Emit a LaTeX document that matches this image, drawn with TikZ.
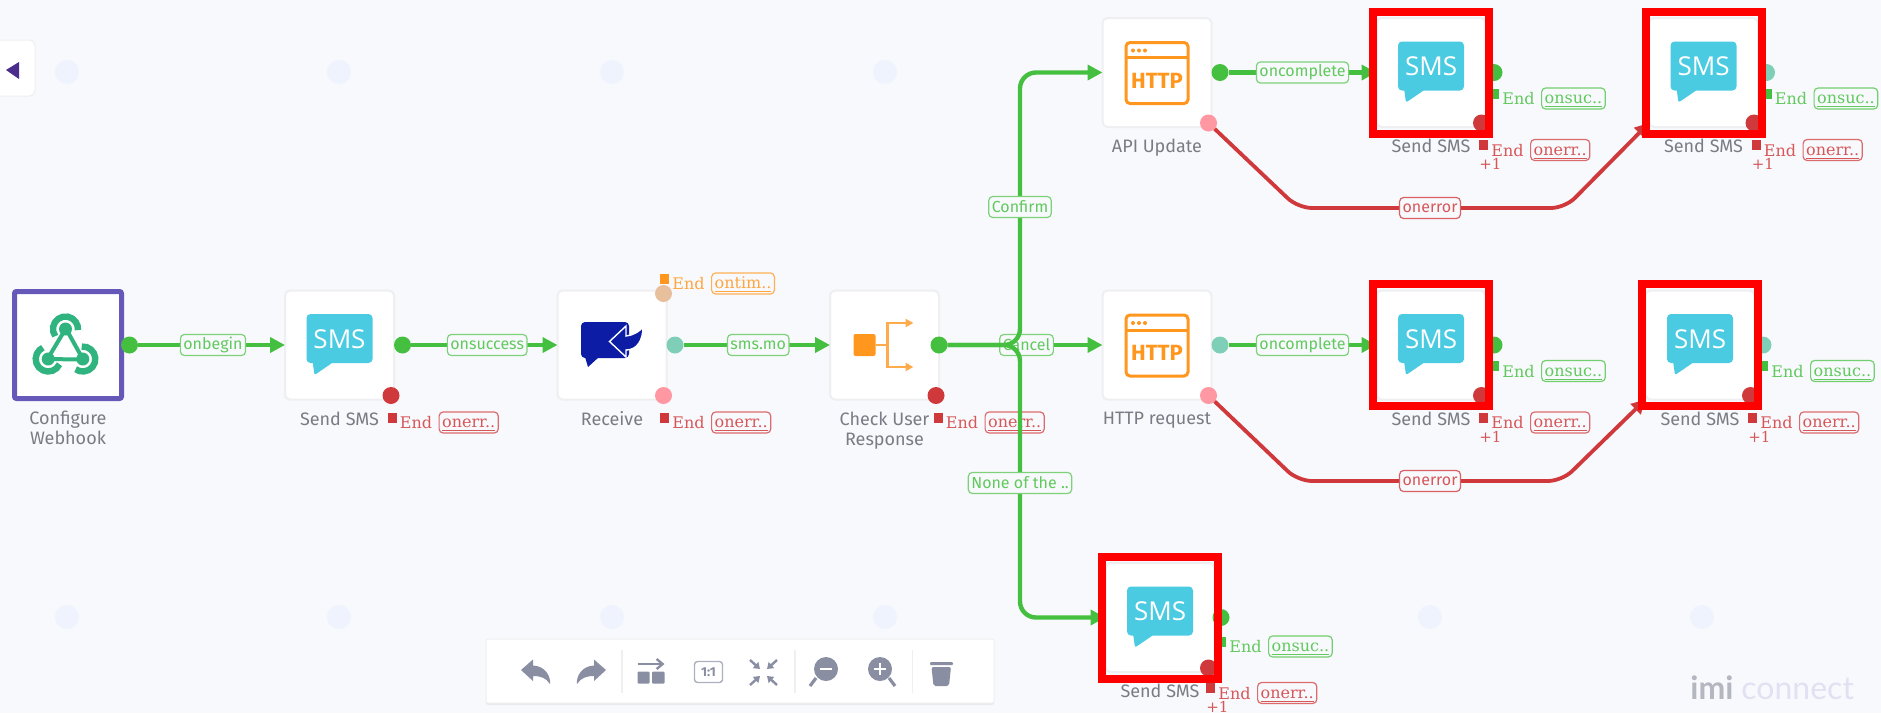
\documentclass[tikz,border=0pt]{standalone}
\usepackage{fontspec}
\usepackage{xcolor}
\usetikzlibrary{positioning,calc,shadows,arrows.meta}
\newfontfamily\plainfont{Fira Sans}
\newfontfamily\tagfont{DejaVu Serif}
\newfontfamily\logofont{Lato}
\newfontfamily\smsfont{Open Sans}
\definecolor{pagebg}{HTML}{F8F9FC}
\definecolor{griddot}{HTML}{EFF3FD}
\definecolor{boxline}{HTML}{EFEFF1}
\definecolor{okgreen}{HTML}{45BF40}
\definecolor{errred}{HTML}{D0393C}
\definecolor{warnorange}{HTML}{FF961E}
\definecolor{idleteal}{HTML}{7FCFB8}
\definecolor{idlepink}{HTML}{FF98A2}
\definecolor{idlepeach}{HTML}{E8BF9C}
\definecolor{smsblue}{HTML}{4ACBE2}
\definecolor{hookgreen}{HTML}{2FB37F}
\definecolor{toolgray}{HTML}{8A8EA3}
\definecolor{startline}{HTML}{6558B8}
\definecolor{tabmark}{HTML}{4B2E8C}
\definecolor{captiongray}{HTML}{7A7C85}
\definecolor{recvblue}{HTML}{0D1CA5}
\definecolor{logogray}{HTML}{B5B7C0}
\definecolor{logolilac}{HTML}{E2E0F2}
\tikzset{
    flowbox/.style={draw=boxline, line width=1pt, fill=white, rounded corners=2.5pt, minimum size=54.5pt, inner sep=0pt, outer sep=0pt},
    startbox/.style={draw=startline, line width=2.5pt, fill=white, rounded corners=1pt, minimum size=53.5pt, inner sep=0pt, outer sep=0pt},
    redframe/.style={draw=red, line width=4pt, minimum width=58pt, minimum height=61pt, inner sep=0pt},
    port/.style={circle, minimum size=8.5pt, inner sep=0pt, outer sep=0pt},
    griddotnode/.style={circle, fill=griddot, minimum size=12pt, inner sep=0pt},
    caption/.style={font=\plainfont\fontsize{9}{10}\selectfont, text=captiongray, align=center, inner sep=0pt},
    okedge/.style={draw=okgreen, line width=2.2pt, -{Triangle[length=7.5pt,width=7.5pt]}},
    erredge/.style={draw=errred, line width=1.9pt, rounded corners=7pt, -{Triangle[length=7pt,width=7pt]}},
    edgetag/.style={draw=okgreen!70!white, fill=pagebg, text=okgreen!85!white, line width=.6pt, rounded corners=2pt, font=\plainfont\fontsize{8}{9}\selectfont, inner xsep=1.5pt, inner ysep=0pt, minimum height=10.5pt},
    errtag/.style={edgetag, draw=errred!80!white, text=errred!85!white},
    endmark/.style={minimum width=4.5pt, minimum height=5pt, inner sep=0pt, outer sep=0pt},
    endtext/.style={font=\tagfont\fontsize{8}{9}\selectfont, inner sep=0pt, text height=6pt, text depth=0pt},
    endbadge/.style={font=\tagfont\fontsize{8}{9}\selectfont, fill=pagebg, line width=.6pt, rounded corners=2pt, inner xsep=1.5pt, inner ysep=0pt, minimum height=10.5pt, text height=6pt, text depth=1pt},
    plusone/.style={font=\tagfont\fontsize{7.5}{9}\selectfont, text=errred!85!white, inner sep=0pt, anchor=west},
    tool/.style={fill=toolgray, draw=none},
    toolline/.style={draw=toolgray, line width=1.2pt},
    toolsep/.style={draw=boxline, line width=.6pt}
}
\newcommand{\smsicon}[1]{
    \begin{scope}[shift={(#1)}, x=.5pt, y=.5pt]
        \fill [smsblue, rounded corners=2pt] (-33,31) rectangle (33,-18);
        \fill [smsblue, rounded corners=1pt] (-27,-16) -- (-25,-30) -- (-6,-17) -- cycle;
        \node [text=white, font=\smsfont\fontsize{13}{13}\selectfont, inner sep=0pt] (#1txt) at (0,6) {SMS};
    \end{scope}
}
\newcommand{\httpicon}[1]{
    \begin{scope}[shift={(#1)}, x=.5pt, y=.5pt]
        \draw [warnorange, line width=1.5pt, rounded corners=2pt] (-31,30) rectangle (31,-31);
        \draw [warnorange, line width=1.5pt] (-31,15) -- (31,15);
        \fill [warnorange] (-24,22) circle (2) (-18,22) circle (2) (-12,22) circle (2);
        \node [text=warnorange, font=\plainfont\bfseries\fontsize{11}{11}\selectfont, inner sep=0pt] (#1txt) at (0,-8) {HTTP};
    \end{scope}
}
\newcommand{\hooklobe}[1]{
    \begin{scope}[rotate=#1]
        \draw [hookgreen, line width=2pt] (0,20) -- (-18,-10);
        \draw [hookgreen, line width=3.2pt] ([shift={(215:12.5)}]0,20) arc (215:-5:12.5);
        \fill [hookgreen] (0,20) circle (6.5);
    \end{scope}
}
\newcommand{\stoptag}[4]{
    \node [endmark, fill=#3] (#1m) at (#2) {};
    \node [endtext, text=#3!85!white, right=1.5pt of #1m, yshift=-2.5pt] (#1t) {End};
    \node [endbadge, draw=#3!75!white, text=#3!85!white, right=3pt of #1t] (#1b) {\underline{#4}};
}
\begin{document}
\begin{tikzpicture}[x=.5pt, y=-.5pt, node distance=81.75pt]
    \useasboundingbox (0,0) rectangle (1881,713);
    \fill [pagebg] (0,0) rectangle (1881,713);

    \node [griddotnode] (g1) at (67,72) {};
    \node [griddotnode] (g2) at (339,72) {};
    \node [griddotnode] (g3) at (612,72) {};
    \node [griddotnode] (g4) at (885,72) {};
    \node [griddotnode] (g5) at (67,617) {};
    \node [griddotnode] (g6) at (339,617) {};
    \node [griddotnode] (g7) at (612,617) {};
    \node [griddotnode] (g8) at (885,617) {};
    \node [griddotnode] (g9) at (1430,617) {};
    \node [griddotnode] (g10) at (1702,617) {};

    \node [draw=boxline, line width=.5pt, fill=white, rounded corners=3pt, minimum width=35pt, minimum height=28pt] (tab) at (0,68) {};
    \fill [tabmark] (6,70) -- (19,62) -- (19,79) -- cycle;

    \node [startbox] (conf) at (68,345) {};
    \node [flowbox, right=of conf] (sms1) {};
    \node [flowbox, right=of sms1] (recv) {};
    \node [flowbox, right=of recv] (chk) {};
    \node [flowbox, right=of chk] (hreq) {};
    \node [flowbox, above=of hreq] (api) {};
    \node [flowbox, right=of api, xshift=.75pt] (sms2) {};
    \node [flowbox, right=of sms2] (sms3) {};
    \node [flowbox, right=of hreq, xshift=.75pt] (sms4) {};
    \node [flowbox, right=of sms4, xshift=-1.75pt] (sms5) {};
    \node [flowbox, below=of hreq, xshift=1.5pt] (sms6) {};

    \node [caption, below=6pt of conf] (confl) {Configure\\Webhook};
    \node [caption, below=6pt of sms1] (sms1l) {Send SMS};
    \node [caption, below=6pt of recv] (recvl) {Receive};
    \node [caption, below=6pt of chk] (chkl) {Check User\\Response};
    \node [caption, below=6pt of api] (apil) {API Update};
    \node [caption, below=6pt of hreq] (hreql) {HTTP request};
    \node [caption, below=6pt of sms2] (sms2l) {Send SMS};
    \node [caption, below=6pt of sms3] (sms3l) {Send SMS};
    \node [caption, below=6pt of sms4] (sms4l) {Send SMS};
    \node [caption, below=6pt of sms5] (sms5l) {Send SMS};
    \node [caption, below=6pt of sms6] (sms6l) {Send SMS};

    \begin{scope}[shift={($(conf)+(-2.5,4)$)}, x=.5pt, y=.5pt]
        \hooklobe{0}
        \hooklobe{120}
        \hooklobe{240}
    \end{scope}

    \smsicon{sms1}
    \smsicon{sms2}
    \smsicon{sms3}
    \smsicon{sms4}
    \smsicon{sms5}
    \smsicon{sms6}
    \httpicon{api}
    \httpicon{hreq}

    \begin{scope}[shift={(recv)}, x=.5pt, y=.5pt]
        \fill [recvblue, rounded corners=2pt] (-31,23) rectangle (17,-13);
        \fill [recvblue] (-27,-12) -- (-24,-22) -- (-13,-12) -- cycle;
        \draw [fill=recvblue, draw=white, line width=.7pt] (-2.5,3.5) -- (14,19) -- (14,9) .. controls (22,10) and (28,14) .. (31,18) .. controls (31,6) and (26,-5) .. (14,-5) -- (14,-12) -- cycle;
    \end{scope}

    \begin{scope}[shift={(chk)}, x=.5pt, y=.5pt]
        \fill [warnorange, rounded corners=1pt] (-31,11) rectangle (-9,-11);
        \draw [warnorange!80!white, line width=1.2pt] (-9,0) -- (3,0);
        \draw [warnorange!80!white, line width=1.2pt, -{Triangle[length=4pt,width=4pt]}] (3,0) |- (29,22);
        \draw [warnorange!80!white, line width=1.2pt, -{Triangle[length=4pt,width=4pt]}] (3,0) |- (29,-22);
    \end{scope}

    \node [port, fill=okgreen] (confok) at ([xshift=4pt]conf.east) {};
    \node [port, fill=okgreen, right=0pt of sms1] (sms1ok) {};
    \node [port, fill=errred] (sms1err) at ([xshift=-1.5pt,yshift=2pt]sms1.south east) {};
    \node [port, fill=idlepeach] (recvto) at ([xshift=-1.5pt,yshift=-1.5pt]recv.north east) {};
    \node [port, fill=idleteal, right=0pt of recv] (recvok) {};
    \node [port, fill=idlepink] (recverr) at ([xshift=-1.5pt,yshift=2pt]recv.south east) {};
    \node [port, fill=okgreen] (chkok) at (chk.east) {};
    \node [port, fill=errred] (chkerr) at ([xshift=-1.5pt,yshift=2pt]chk.south east) {};
    \node [port, fill=okgreen, right=0pt of api] (apiok) {};
    \node [port, fill=idlepink] (apierr) at ([xshift=-1.5pt,yshift=2pt]api.south east) {};
    \node [port, fill=idleteal, right=0pt of hreq] (hreqok) {};
    \node [port, fill=idlepink] (hreqerr) at ([xshift=-1.5pt,yshift=2pt]hreq.south east) {};
    \node [port, fill=okgreen, right=0pt of sms2] (sms2ok) {};
    \node [port, fill=errred] (sms2err) at ([xshift=-2pt,yshift=2pt]sms2.south east) {};
    \node [port, fill=idleteal, right=0pt of sms3] (sms3ok) {};
    \node [port, fill=errred] (sms3err) at ([xshift=-2pt,yshift=2pt]sms3.south east) {};
    \node [port, fill=okgreen, right=0pt of sms4] (sms4ok) {};
    \node [port, fill=errred] (sms4err) at ([xshift=-2pt,yshift=2pt]sms4.south east) {};
    \node [port, fill=idleteal, right=0pt of sms5] (sms5ok) {};
    \node [port, fill=errred] (sms5err) at ([xshift=-2pt,yshift=2pt]sms5.south east) {};
    \node [port, fill=okgreen, right=-1pt of sms6] (sms6ok) {};
    \node [port, fill=errred] (sms6err) at ([xshift=-3pt,yshift=2pt]sms6.south east) {};

    \stoptag{sms1e}{[xshift=-1pt,yshift=-9pt]sms1.south east}{errred}{onerr..}
    \stoptag{recvt}{[xshift=-1pt,yshift=6pt]recv.north east}{warnorange}{ontim..}
    \stoptag{recve}{[xshift=-1pt,yshift=-9pt]recv.south east}{errred}{onerr..}
    \stoptag{chke}{[xshift=-.5pt,yshift=-9pt]chk.south east}{errred}{onerr..}
    \stoptag{sms2g}{[xshift=4.5pt,yshift=-10.5pt]sms2.east}{okgreen}{onsuc..}
    \stoptag{sms2e}{[xshift=-1pt,yshift=-9pt]sms2.south east}{errred}{onerr..}
    \stoptag{sms3g}{[xshift=4.5pt,yshift=-10.5pt]sms3.east}{okgreen}{onsuc..}
    \stoptag{sms3e}{[xshift=-1pt,yshift=-9pt]sms3.south east}{errred}{onerr..}
    \stoptag{sms4g}{[xshift=4.5pt,yshift=-10.5pt]sms4.east}{okgreen}{onsuc..}
    \stoptag{sms4e}{[xshift=-1pt,yshift=-9pt]sms4.south east}{errred}{onerr..}
    \stoptag{sms5g}{[xshift=4.5pt,yshift=-10.5pt]sms5.east}{okgreen}{onsuc..}
    \stoptag{sms5e}{[xshift=-1pt,yshift=-9pt]sms5.south east}{errred}{onerr..}
    \stoptag{sms6g}{[xshift=3.5pt,yshift=-12pt]sms6.east}{okgreen}{onsuc..}
    \stoptag{sms6e}{[xshift=-2pt,yshift=-8pt]sms6.south east}{errred}{onerr..}

    \node [plusone] (sms2p) at ([yshift=-9.5pt]sms2em.west) {+1};
    \node [plusone] (sms3p) at ([yshift=-9.5pt]sms3em.west) {+1};
    \node [plusone] (sms4p) at ([yshift=-9.5pt]sms4em.west) {+1};
    \node [plusone] (sms5p) at ([yshift=-9.5pt]sms5em.west) {+1};
    \node [plusone] (sms6p) at ([yshift=-9.5pt]sms6em.west) {+1};

    \draw [okedge] (confok) -- node [edgetag, pos=.51] (t1) {onbegin} (sms1);
    \draw [okedge] (sms1ok) -- node [edgetag, pos=.52] (t2) {onsuccess} (recv);
    \draw [okedge] (recvok) -- node [edgetag, pos=.51] (t3) {sms.mo} (chk);
    \draw [okedge] (chkok) -- node [edgetag, pos=.51] (t4) {Cancel} (hreq);
    \draw [okedge] (apiok) -- node [edgetag, pos=.5] (t5) {oncomplete} (sms2);
    \draw [okedge] (hreqok) -- node [edgetag, pos=.5] (t6) {oncomplete} (sms4);

    \coordinate (bus) at (1020,345);
    \draw [okedge, rounded corners=8pt] (chkok) -- (bus) |- (api);
    \draw [okedge, rounded corners=8pt] (chkok) -- (bus) |- (sms6);
    \node [edgetag] (t7) at (1020,207) {Confirm};
    \node [edgetag] (t8) at (1020,483) {None of the ..};

    \coordinate (apil1) at (1298,208);
    \coordinate (apil2) at (1565,208);
    \coordinate (hreql1) at (1298,481);
    \coordinate (hreql2) at (1562,481);
    \draw [erredge] (apierr) -- (apil1) -- (apil2) -- ([yshift=2pt]sms3.south west);
    \draw [erredge] (hreqerr) -- (hreql1) -- (hreql2) -- (sms5.south west);
    \node [errtag] (t9) at (1430,208) {onerror};
    \node [errtag] (t10) at (1430,481) {onerror};

    \node [redframe] (f2) at (sms2) {};
    \node [redframe] (f3) at (sms3) {};
    \node [redframe] (f4) at (sms4) {};
    \node [redframe] (f5) at (sms5) {};
    \node [redframe] (f6) at (sms6) {};

    \node [fill=white, draw=boxline, line width=.5pt, rounded corners=1pt, minimum width=254pt, minimum height=32pt, drop shadow={opacity=.12, shadow xshift=0pt, shadow yshift=-1pt}] (bar) at (740,671) {};
    \draw [toolsep] (622,650) -- (622,693);
    \draw [toolsep] (795,650) -- (795,693);
    \draw [toolsep] (912.5,650) -- (912.5,693);
    \fill [tool] (521,670) -- (533,659.5) -- (533,665.5) .. controls (545,666) and (551,676) .. (550,684) .. controls (546,678) and (541,676) .. (533,676) -- (533,681) -- cycle;
    \fill [tool] (606,670) -- (594,659.5) -- (594,665.5) .. controls (582,666) and (576,676) .. (577,684) .. controls (581,678) and (586,676) .. (594,676) -- (594,681) -- cycle;
    \fill [tool, rounded corners=.5pt] (637.5,671.5) rectangle (649.5,683.5);
    \fill [tool, rounded corners=.5pt] (652,671.5) rectangle (664.5,683.5);
    \draw [toolline, -{Straight Barb[length=3pt,width=5pt]}] (637.5,664) -- (664.5,664);
    \node [draw=toolgray!70!white, line width=.7pt, rounded corners=1.5pt, text=toolgray, font=\plainfont\bfseries\fontsize{6.5}{7}\selectfont, minimum width=14pt, minimum height=10.5pt, inner sep=0pt] (ones) at (708.5,672) {1:1};
    \draw [toolline, -{Triangle[length=3pt,width=4pt]}] (750,660) -- (760,669);
    \draw [toolline, -{Triangle[length=3pt,width=4pt]}] (777,660) -- (767,669);
    \draw [toolline, -{Triangle[length=3pt,width=4pt]}] (750,685) -- (760,676);
    \draw [toolline, -{Triangle[length=3pt,width=4pt]}] (777,685) -- (767,676);
    \draw [toolline, line width=1.6pt] (816,678) -- (810,686);
    \fill [tool] (826,669) circle (12);
    \draw [white, line width=1.2pt] (820,669) -- (832,669);
    \draw [toolline, line width=1.6pt] (889,678) -- (895,686);
    \fill [tool] (880,669) circle (12);
    \draw [white, line width=1.2pt] (874,669) -- (886,669) (880,663) -- (880,675);
    \fill [tool, rounded corners=.5pt] (930,662) rectangle (953,665);
    \fill [tool, rounded corners=1pt] (931.5,667) -- (951,667) -- (949,686) -- (933.5,686) -- cycle;

    \node [text=logogray, font=\logofont\bfseries\fontsize{16}{16}\selectfont, anchor=base west, inner sep=0pt] (imi) at (1690,699) {imi};
    \node [text=logolilac, font=\logofont\fontsize{16}{16}\selectfont, anchor=base west, inner sep=0pt] (connect) at (1741,699) {connect};
\end{tikzpicture}
\end{document}
